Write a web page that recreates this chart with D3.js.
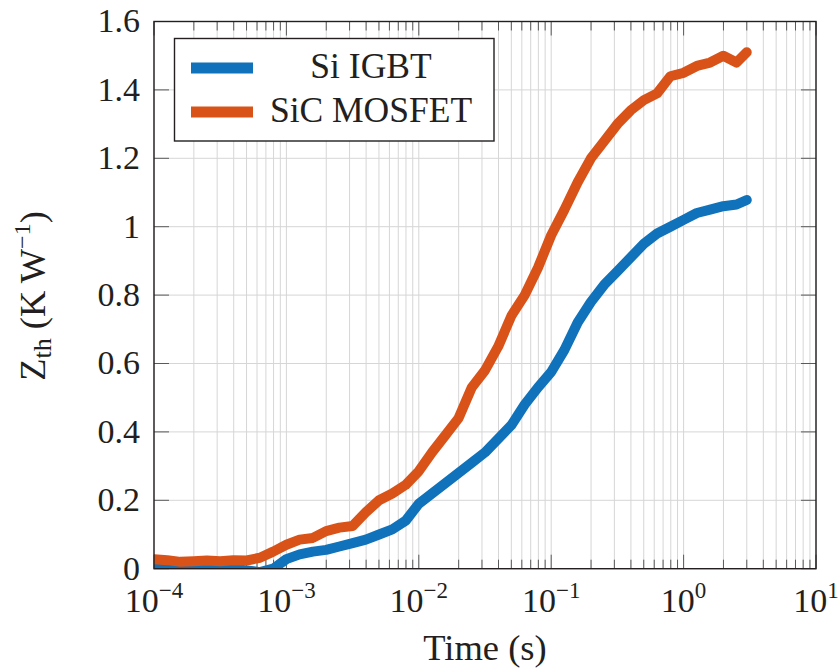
<!DOCTYPE html>
<html>
<head>
<meta charset="utf-8">
<script src="https://cdn.jsdelivr.net/npm/d3@7"></script>
<style>
  html, body { margin: 0; padding: 0; background: #fff; }
  svg { display: block; }
</style>
</head>
<body>
<svg id="chart" width="840" height="668" font-family="'Liberation Serif', 'DejaVu Serif', serif"></svg>
<script>
// Thermal impedance step response, sampled at 0.1-decade steps from 1e-4 s to 3 s
const timeLog = [
  -4.0, -3.9, -3.8, -3.7, -3.6, -3.5, -3.4, -3.3, -3.2, -3.1,
  -3.0, -2.9, -2.8, -2.7, -2.6, -2.5, -2.4, -2.3, -2.2, -2.1,
  -2.0, -1.9, -1.8, -1.7, -1.6, -1.5, -1.4, -1.3, -1.2, -1.1,
  -1.0, -0.9, -0.8, -0.7, -0.6, -0.5, -0.4, -0.3, -0.2, -0.1,
   0.0,  0.1,  0.2,  0.3,  0.4,  0.477
];
const siIGBT = [
  0.005, 0.004, 0.003, 0.002, 0.000, 0.000, 0.000, -0.005, -0.010, 0.000,
  0.028, 0.042, 0.050, 0.055, 0.065, 0.075, 0.085, 0.100, 0.115, 0.140,
  0.190, 0.220, 0.250, 0.280, 0.310, 0.340, 0.380, 0.420, 0.480, 0.530,
  0.575, 0.640, 0.720, 0.780, 0.830, 0.870, 0.910, 0.950, 0.980, 1.000,
  1.020, 1.040, 1.050, 1.060, 1.065, 1.078
];
const sicMOSFET = [
  0.028, 0.025, 0.020, 0.022, 0.024, 0.022, 0.025, 0.024, 0.032, 0.050,
  0.070, 0.085, 0.090, 0.110, 0.120, 0.125, 0.165, 0.200, 0.220, 0.245,
  0.285, 0.340, 0.390, 0.440, 0.530, 0.580, 0.650, 0.740, 0.800, 0.880,
  0.975, 1.050, 1.130, 1.200, 1.250, 1.300, 1.340, 1.370, 1.390, 1.440,
  1.450, 1.470, 1.480, 1.500, 1.480, 1.510
];
const seriesNames = ["Si IGBT", "SiC MOSFET"];
const seriesColors = ["#0f72ba", "#d95319"];
const yTickValues = [0, 0.2, 0.4, 0.6, 0.8, 1, 1.2, 1.4, 1.6];
const yTickLabels = ["0", "0.2", "0.4", "0.6", "0.8", "1", "1.2", "1.4", "1.6"];
const xDecades = [-4, -3, -2, -1, 0, 1];

const svg = d3.select("#chart");
const ink = "#231f20";
const plotL = 154, plotR = 816, plotT = 21.5, plotB = 568.7;

const x = d3.scaleLog().domain([1e-4, 10]).range([plotL, plotR]);
const y = d3.scaleLinear().domain([0, 1.6]).range([plotB, plotT]);

// grid
const grid = svg.append("g");
const xTicksAll = x.ticks();
grid.selectAll("line.vx").data(xTicksAll).join("line")
  .attr("x1", d => x(d)).attr("x2", d => x(d))
  .attr("y1", plotT).attr("y2", plotB)
  .attr("stroke", "#d6d6d6").attr("stroke-width", 1);
grid.selectAll("line.hy").data(yTickValues).join("line")
  .attr("x1", plotL).attr("x2", plotR)
  .attr("y1", d => y(d)).attr("y2", d => y(d))
  .attr("stroke", "#d6d6d6").attr("stroke-width", 1);

// ticks (inward, all four sides)
const ticks = svg.append("g").attr("stroke", "#5a5a5a").attr("stroke-width", 1);
const isMajor = d => Math.abs(Math.log10(d) - Math.round(Math.log10(d))) < 1e-9;
xTicksAll.forEach(d => {
  const len = isMajor(d) ? 14 : 9;
  ticks.append("line").attr("x1", x(d)).attr("x2", x(d)).attr("y1", plotB).attr("y2", plotB - len);
  ticks.append("line").attr("x1", x(d)).attr("x2", x(d)).attr("y1", plotT).attr("y2", plotT + len);
});
yTickValues.forEach(d => {
  ticks.append("line").attr("x1", plotL).attr("x2", plotL + 15).attr("y1", y(d)).attr("y2", y(d));
  ticks.append("line").attr("x1", plotR).attr("x2", plotR - 15).attr("y1", y(d)).attr("y2", y(d));
});

// series
svg.append("defs").append("clipPath").attr("id", "plotClip")
  .append("rect").attr("x", plotL).attr("y", plotT).attr("width", plotR - plotL).attr("height", plotB - plotT);

const line = d3.line()
  .x(d => x(Math.pow(10, d[0])))
  .y(d => y(d[1]))
  .curve(d3.curveLinear);

const seriesData = [siIGBT, sicMOSFET];
seriesData.forEach((vals, i) => {
  svg.append("path")
    .datum(timeLog.map((t, k) => [t, vals[k]]))
    .attr("clip-path", "url(#plotClip)")
    .attr("fill", "none")
    .attr("stroke", seriesColors[i])
    .attr("stroke-width", 10)
    .attr("stroke-linejoin", "round")
    .attr("stroke-linecap", "round")
    .attr("d", line);
});

// frame
svg.append("rect")
  .attr("x", plotL).attr("y", plotT).attr("width", plotR - plotL).attr("height", plotB - plotT)
  .attr("fill", "none").attr("stroke", ink).attr("stroke-width", 1.4);

// y tick labels
svg.append("g").selectAll("text").data(yTickValues).join("text")
  .attr("x", 140).attr("y", d => y(d))
  .attr("dy", "0.32em")
  .attr("text-anchor", "end")
  .attr("font-size", 34)
  .attr("fill", ink)
  .text((d, i) => yTickLabels[i]);

// x tick labels: 10^n
const xl = svg.append("g");
xDecades.forEach(p => {
  const t = xl.append("text")
    .attr("x", x(Math.pow(10, p))).attr("y", 612)
    .attr("text-anchor", "middle")
    .attr("font-size", 34)
    .attr("fill", ink);
  t.append("tspan").text("10");
  t.append("tspan").attr("font-size", 23).attr("dy", -14)
    .text(p < 0 ? "\u2212" + Math.abs(p) : String(p));
});

// axis titles
svg.append("text")
  .attr("x", 485).attr("y", 660)
  .attr("text-anchor", "middle")
  .attr("font-size", 36.5)
  .attr("fill", ink)
  .text("Time (s)");

const yt = svg.append("text")
  .attr("transform", "translate(45,296) rotate(-90)")
  .attr("text-anchor", "middle")
  .attr("font-size", 36.5)
  .attr("fill", ink);
yt.append("tspan").text("Z");
yt.append("tspan").attr("font-size", 26).attr("dy", 6).text("th");
yt.append("tspan").attr("dy", -6).text(" (K\u2009W");
yt.append("tspan").attr("font-size", 24).attr("dy", -15).text("\u22121");
yt.append("tspan").attr("dy", 15).text(")");

// legend
const lg = svg.append("g");
lg.append("rect")
  .attr("x", 174.5).attr("y", 38.5).attr("width", 319.5).attr("height", 102.5)
  .attr("fill", "#fff").attr("stroke", ink).attr("stroke-width", 1.4);
const legendRows = [68, 112];
seriesNames.forEach((name, i) => {
  lg.append("line")
    .attr("x1", 191).attr("x2", 253)
    .attr("y1", legendRows[i]).attr("y2", legendRows[i])
    .attr("stroke", seriesColors[i]).attr("stroke-width", 11);
  lg.append("text")
    .attr("x", 371).attr("y", legendRows[i] + 10)
    .attr("text-anchor", "middle")
    .attr("font-size", 35.5)
    .attr("fill", ink)
    .text(name);
});
</script>
</body>
</html>
